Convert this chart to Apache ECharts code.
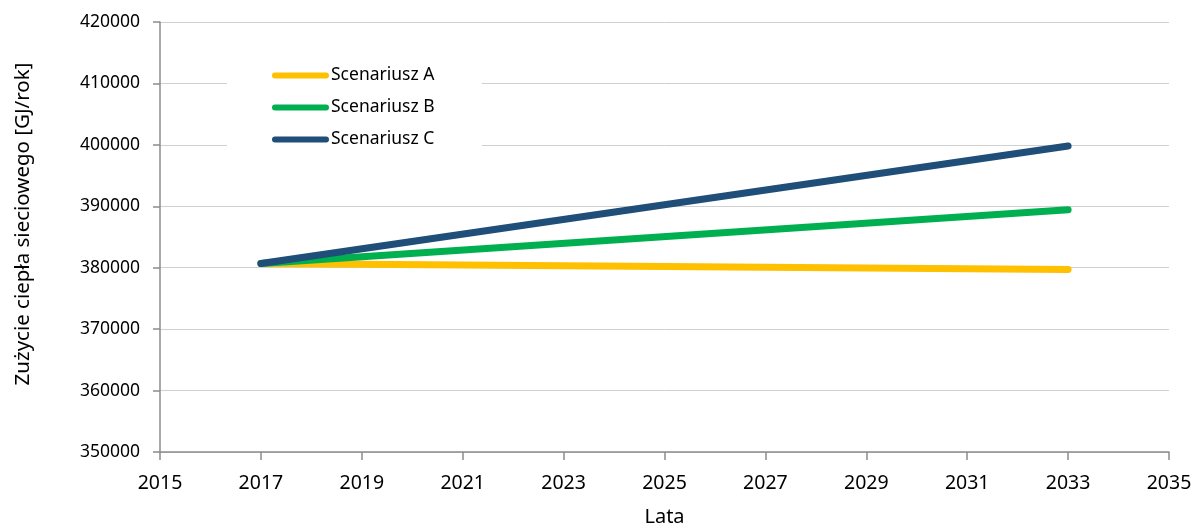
<!DOCTYPE html>
<html><head><meta charset="utf-8">
<script src="https://cdn.jsdelivr.net/npm/echarts@6/dist/echarts.min.js"></script>
<style>html,body{margin:0;padding:0;background:#fff}#c{width:1201px;height:532px}</style>
</head><body><div id="c"></div>
<script>
const years = [2017, 2033];
const scenA = [380680, 379700];
const scenB = [380680, 389450];
const scenC = [380680, 399800];
const seriesNames = ['Scenariusz A', 'Scenariusz B', 'Scenariusz C'];
const colors = ['#FFC000', '#00B050', '#1F4E79'];
const xAxisName = 'Lata';
const yAxisName = 'Zużycie ciepła sieciowego [GJ/rok]';

const font = 'Noto Sans';
const chart = echarts.init(document.getElementById('c'));
const pill = 'path://M3,0 L54,0 A3,3 0 0 1 54,6 L3,6 A3,3 0 0 1 3,0 Z';
const mk = (name, vals, color) => ({
  name, type: 'line', data: years.map((y, i) => [y, vals[i]]),
  symbol: 'none', color,
  lineStyle: { width: 7, color, cap: 'round', join: 'round' },
  z: 3
});
chart.setOption({
  animation: false,
  textStyle: { fontFamily: font },
  grid: { left: 160, right: 32, top: 22, bottom: 78 },
  legend: {
    left: 227, top: 52, orient: 'vertical',
    backgroundColor: '#fff',
    padding: [12, 47, 12, 45],
    itemWidth: 57, itemHeight: 7, itemGap: 9,
    icon: pill,
    textStyle: { fontSize: 17.5, color: '#000', fontFamily: font, padding: [0, 0, 0, -3], lineHeight: 23 },
    data: seriesNames,
    z: 2
  },
  xAxis: {
    type: 'value', min: 2015, max: 2035, interval: 2,
    name: xAxisName, nameLocation: 'middle', nameGap: 55,
    nameTextStyle: { fontSize: 20, color: '#000' },
    axisLine: { show: true, lineStyle: { color: '#8c8c8c', width: 1.5 } },
    axisTick: { show: true, length: 8, lineStyle: { color: '#8c8c8c', width: 1.5 } },
    axisLabel: { fontSize: 19.5, color: '#000', margin: 21, formatter: v => String(v) },
    splitLine: { show: false }
  },
  yAxis: {
    type: 'value', min: 350000, max: 420000, interval: 10000,
    name: yAxisName, nameLocation: 'middle', nameGap: 126, nameRotate: 90,
    nameTextStyle: { fontSize: 20.5, color: '#000', padding: [0, 0, 0, 26] },
    axisLine: { show: true, lineStyle: { color: '#8c8c8c', width: 1.5 } },
    axisTick: { show: true, length: 7, lineStyle: { color: '#8c8c8c', width: 1.5 } },
    axisLabel: { fontSize: 17.5, color: '#000', margin: 20, formatter: v => String(v) },
    splitLine: { show: true, lineStyle: { color: '#d0d0d0', width: 1 } }
  },
  series: [mk(seriesNames[0], scenA, colors[0]), mk(seriesNames[1], scenB, colors[1]), mk(seriesNames[2], scenC, colors[2])]
});
</script></body></html>
